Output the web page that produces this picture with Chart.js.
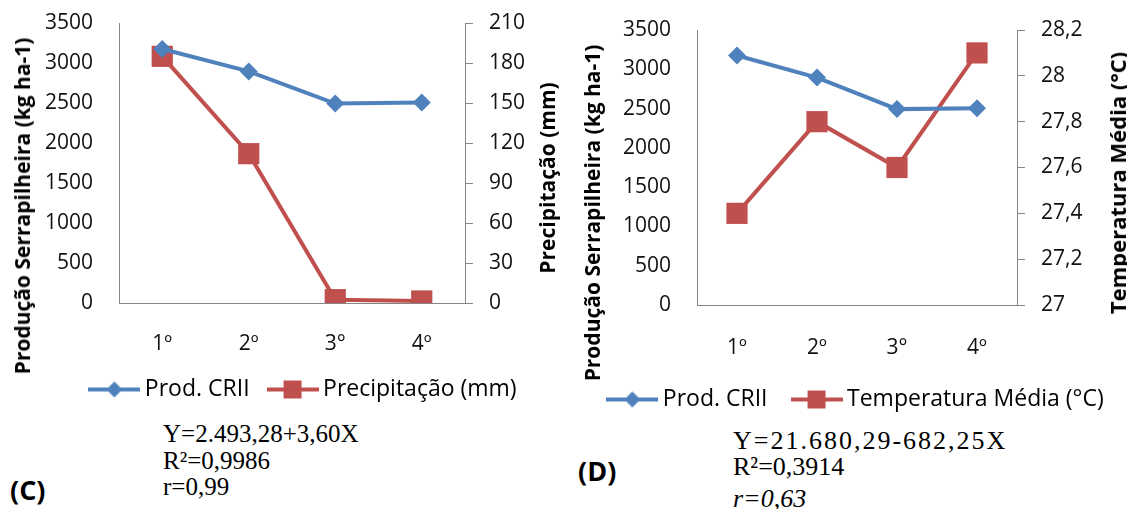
<!DOCTYPE html>
<html lang="pt">
<head>
<meta charset="utf-8">
<title>Produção Serrapilheira x Precipitação / Temperatura</title>
<script src="https://cdn.jsdelivr.net/npm/chart.js@4.4.0/dist/chart.umd.min.js"></script>
<style>
  html, body { margin: 0; padding: 0; background: #fff; }
  body { width: 1127px; height: 509px; overflow: hidden; position: relative; font-family: 'Open Sans', sans-serif; color: #000; }
  canvas { position: absolute; top: 0; }
  #chartC { left: 0; }
  #chartD { left: 560px; }
  .vt { position: absolute; transform: translate(-50%, -50%) rotate(-90deg); white-space: nowrap; font-weight: bold; font-size: 21px; line-height: 26px; }
  .eq { position: absolute; white-space: nowrap; font-family: 'Liberation Serif', 'Times New Roman', serif; font-size: 25px; line-height: 26px; }
  .tag { position: absolute; font-weight: bold; font-size: 27px; line-height: 32px; }
</style>
</head>
<body>
<canvas id="chartC" width="612" height="420"></canvas>
<canvas id="chartD" width="597" height="422"></canvas>

<div class="vt" style="left:22px; top:206px;">Produção Serrapilheira (kg ha-1)</div>
<div class="vt" style="left:547px; top:178px;">Precipitação (mm)</div>
<div class="vt" style="left:592px; top:213px;">Produção Serrapilheira (kg ha-1)</div>
<div class="vt" style="left:1117px; top:183px; font-size:22px;">Temperatura Média (°C)</div>

<div class="eq" style="left:163px; top:421px;">Y=2.493,28+3,60X</div>
<div class="eq" style="left:163px; top:448px;">R²=0,9986</div>
<div class="eq" style="left:163px; top:474px;">r=0,99</div>
<div class="tag" style="left:10px; top:474px;">(C)</div>

<div class="eq" style="left:733px; top:428px; font-size:26px; letter-spacing:2px;">Y=21.680,29-682,25X</div>
<div class="eq" style="left:733px; top:454px; font-size:26px;">R²=0,3914</div>
<div class="eq" style="left:733px; top:486px; font-size:26px; font-style:italic;">r=0,63</div>
<div class="tag" style="left:578px; top:455px;">(D)</div>

<script>
const categorias = ['1º', '2º', '3°', '4º'];
const prodCRII = [3175, 2895, 2493, 2505];
const precipitacao = [185, 112, 2.5, 1.5];
const temperatura = [27.4, 27.8, 27.6, 28.1];

const prodTicks = ['0', '500', '1000', '1500', '2000', '2500', '3000', '3500'];
const precTicks = ['0', '30', '60', '90', '120', '150', '180', '210'];
const tempTicks = ['27', '27,2', '27,4', '27,6', '27,8', '28', '28,2'];

const azul = '#4F81BD';
const vermelho = '#C0504D';
const cinza = '#868686';
const fonte = 'Open Sans';

// little line + marker pictures for the legend, like Excel does
function marcaLegenda(cor, forma) {
  const c = document.createElement('canvas');
  c.width = 52;
  c.height = 22;
  const g = c.getContext('2d');
  g.strokeStyle = cor;
  g.lineWidth = 4;
  g.beginPath();
  g.moveTo(0, 11);
  g.lineTo(52, 11);
  g.stroke();
  g.fillStyle = cor;
  g.beginPath();
  if (forma == 'losango') {
    g.moveTo(26, 3); g.lineTo(34, 11); g.lineTo(26, 19); g.lineTo(18, 11);
  } else {
    g.rect(17, 2, 18, 18);
  }
  g.closePath();
  g.fill();
  return c;
}

const marcas = [marcaLegenda(azul, 'losango'), marcaLegenda(vermelho, 'quadrado')];

function serie(label, data, cor, estilo, raio, eixo) {
  return {
    label: label,
    data: data,
    borderColor: cor,
    backgroundColor: cor,
    borderWidth: 4,
    pointStyle: estilo,
    pointRadius: raio,
    pointHoverRadius: raio,
    pointBackgroundColor: cor,
    pointBorderColor: cor,
    pointBorderWidth: 0,
    tension: 0,
    yAxisID: eixo
  };
}

function montaConfig(datasets, eixoDir, opt) {
  return {
    type: 'line',
    data: { labels: categorias, datasets: datasets },
    options: {
      responsive: false,
      animation: false,
      layout: { padding: { top: opt.top, bottom: opt.bottom, left: 0, right: 0 } },
      scales: {
        x: {
          offset: true,
          grid: { display: false, drawTicks: false },
          border: { display: true, color: cinza, width: 1 },
          ticks: { color: '#111', font: { family: fonte, size: 21 }, padding: opt.xPad },
          afterFit: function (s) { s.height = opt.xHeight; }
        },
        y: {
          position: 'left',
          min: 0,
          max: 3500,
          grid: { display: false, drawTicks: false },
          border: { display: true, color: cinza, width: 1 },
          ticks: {
            stepSize: 500,
            padding: 26,
            color: '#111',
            font: { family: fonte, size: 21 },
            callback: function (v, i) { return prodTicks[i]; }
          },
          afterFit: function (s) {
            s.width = opt.leftW;
            s.paddingTop = 0;
            s.paddingBottom = 0;
          }
        },
        y2: {
          position: 'right',
          min: eixoDir.min,
          max: eixoDir.max,
          grid: { display: true, drawOnChartArea: false, drawTicks: true, tickLength: 8, color: cinza },
          border: { display: true, color: cinza, width: 1 },
          ticks: {
            stepSize: eixoDir.step,
            padding: 16,
            color: '#111',
            font: { family: fonte, size: 21 },
            callback: function (v, i) { return eixoDir.labels[i]; }
          },
          afterFit: function (s) {
            s.width = opt.rightW;
            s.paddingTop = 0;
            s.paddingBottom = 0;
          }
        }
      },
      plugins: {
        tooltip: { enabled: false },
        legend: {
          position: 'bottom',
          labels: {
            usePointStyle: true,
            pointStyleWidth: 38,
            padding: opt.legPad,
            color: '#111',
            font: { family: fonte, size: 23 },
            generateLabels: function (chart) {
              return chart.data.datasets.map(function (ds, i) {
                return {
                  text: ds.label,
                  fillStyle: ds.borderColor,
                  strokeStyle: ds.borderColor,
                  lineWidth: 0,
                  pointStyle: marcas[i],
                  hidden: false,
                  datasetIndex: i
                };
              });
            }
          }
        }
      }
    }
  };
}

var graficoC = new Chart(
  document.getElementById('chartC'),
  montaConfig(
    [serie('Prod. CRII', prodCRII, azul, 'rectRot', 9, 'y'),
     serie('Precipitação (mm)', precipitacao, vermelho, 'rect', 15, 'y2')],
    { min: 0, max: 210, step: 30, labels: precTicks },
    { top: 23, bottom: 9, xPad: 28, xHeight: 51, leftW: 119, rightW: 147, legPad: 24 }
  )
);

var graficoD = new Chart(
  document.getElementById('chartD'),
  montaConfig(
    [serie('Prod. CRII', prodCRII, azul, 'rectRot', 9, 'y'),
     serie('Temperatura Média (°C)', temperatura, vermelho, 'rect', 15, 'y2')],
    { min: 27, max: 28.2, step: 0.2, labels: tempTicks },
    { top: 30, bottom: 1, xPad: 30, xHeight: 53, leftW: 137, rightW: 140, legPad: 30 }
  )
);
</script>
</body>
</html>
